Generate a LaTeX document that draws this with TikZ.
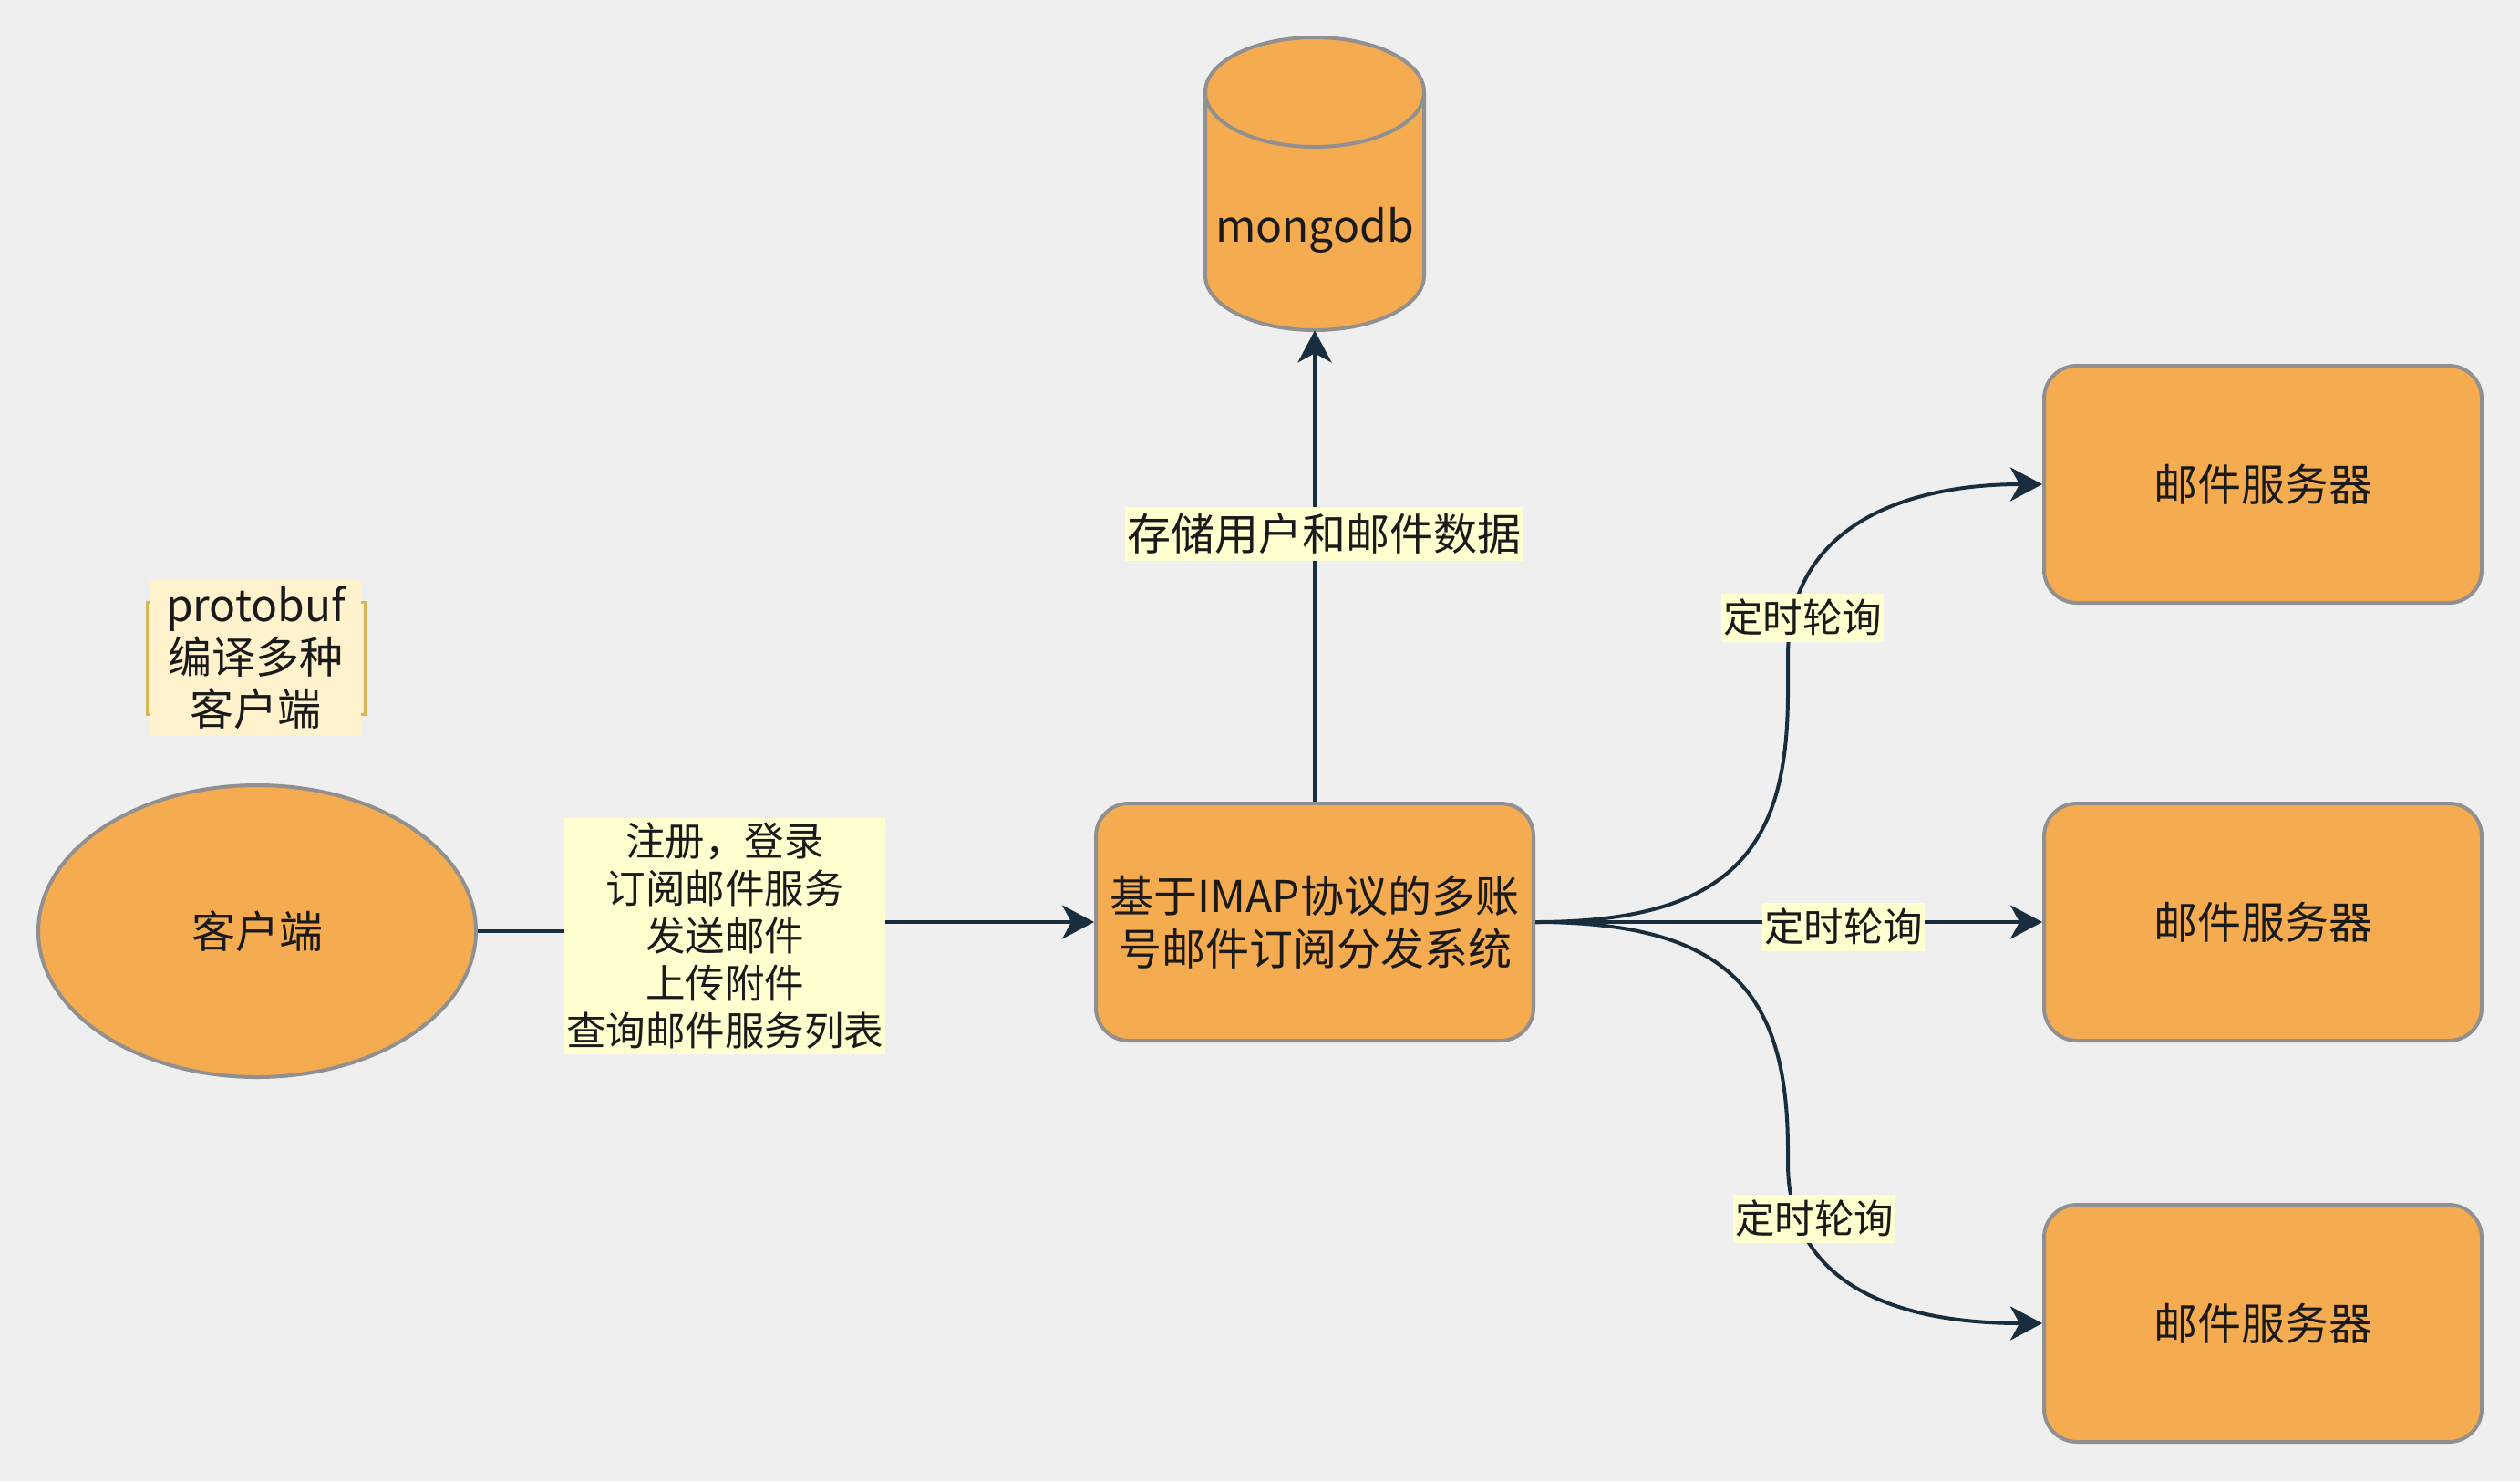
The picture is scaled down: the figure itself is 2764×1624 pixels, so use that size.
\documentclass[tikz,border=0pt]{standalone}
\usepackage{fontspec}
\setmainfont{Noto Sans CJK SC}
\usetikzlibrary{shapes.geometric,arrows.meta}
\definecolor{bgc}{HTML}{EFEFEF}
\definecolor{orng}{HTML}{F5AB50}
\definecolor{gry}{HTML}{909090}
\definecolor{edgec}{HTML}{182E3E}
\definecolor{lblbg}{HTML}{FFFFD0}
\definecolor{notebg}{HTML}{FFF2CC}
\definecolor{notebd}{HTML}{D6B656}
\definecolor{txt}{HTML}{1A1A1A}
\begin{document}
\begin{tikzpicture}[x=0.5pt,y=-0.5pt,
  box/.style={draw=gry, fill=orng, line width=2pt, rounded corners=18pt, minimum width=240pt, minimum height=130pt, inner sep=0pt, text=txt, font=\fontsize{24}{29}\selectfont, align=center},
  ell/.style={ellipse, draw=gry, fill=orng, line width=2pt, minimum width=240pt, minimum height=160pt, inner sep=0pt, text=txt, font=\fontsize{24}{29}\selectfont},
  lbl/.style={fill=lblbg, inner xsep=1pt, inner ysep=0pt, text=txt, font=\fontsize{21.75}{26}\selectfont, align=center, minimum height=26.5pt},
  edge/.style={draw=edgec, line width=2pt, -{Stealth[length=17.5pt,width=18.5pt,inset=5pt]}},
]
\useasboundingbox (0,0) rectangle (2764,1624);
\fill[bgc] (0,0) rectangle (2764,1624);

% nodes
\node[box] (s1) at (2482,531) {邮件服务器};
\node[box] (s2) at (2482,1011) {邮件服务器};
\node[box] (s3) at (2482,1451) {邮件服务器};
\node[box] (sys) at (1442,1011) {基于IMAP协议的多账\\号邮件订阅分发系统};
\node[ell] (cl) at (282,1021) {客户端};

% database cylinder
\node[minimum width=120pt, minimum height=160.5pt, inner sep=0pt] (db) at (1442,201.5) {};
\filldraw[draw=gry, fill=orng, line width=2pt]
  (1322,101) -- (1322,302) arc[start angle=180, end angle=360, x radius=60pt, y radius=30pt]
  -- (1562,101) arc[start angle=0, end angle=180, x radius=60pt, y radius=30pt] -- cycle;
\draw[draw=gry, line width=2pt] (1322,101) arc[start angle=180, end angle=360, x radius=60pt, y radius=30pt];
\node[text=txt, font=\fontsize{24}{29}\selectfont, inner sep=0pt] (dbtext) at (1442,252) {mongodb};

% note
\node[draw=notebd, fill=notebg, line width=1.5pt, minimum width=119.5pt, minimum height=61.5pt, inner sep=0pt] (notebox) at (280.5,721.5) {};
\node[fill=notebg, inner sep=0pt, minimum width=115.5pt, minimum height=85.5pt, font=\fontsize{24}{28.5}\selectfont, align=center, text=txt] (note) at (280.5,721.5) {protobuf\\编译多种\\客户端};

% connectors
\coordinate (jog) at (795,1021);
\draw[edge] (cl.east) -- (jog) |- (sys.west);
\draw[edge] (sys.north) -- (db.south);
\draw[edge] (sys.east) .. controls (1900,1011) and (1961,930) .. (1961,760) -- (1961,720) .. controls (1961,570) and (2100,531) .. (s1.west);
\draw[edge] (sys.east) -- (s2.west);
\draw[edge] (sys.east) .. controls (1900,1011) and (1961,1092) .. (1961,1262) -- (1961,1275) .. controls (1961,1420) and (2100,1451) .. (s3.west);

% labels
\node[lbl, minimum height=129.5pt] (l0) at (795,1026) {注册，登录\\订阅邮件服务\\发送邮件\\上传附件\\查询邮件服务列表};
\node[lbl, font=\fontsize{24}{29}\selectfont, minimum height=29.5pt] (ldb) at (1452,585) {存储用户和邮件数据};
\node[lbl] (l1) at (1977,677) {定时轮询};
\node[lbl] (l2) at (2022,1016) {定时轮询};
\node[lbl] (l3) at (1990,1336) {定时轮询};
\end{tikzpicture}
\end{document}
